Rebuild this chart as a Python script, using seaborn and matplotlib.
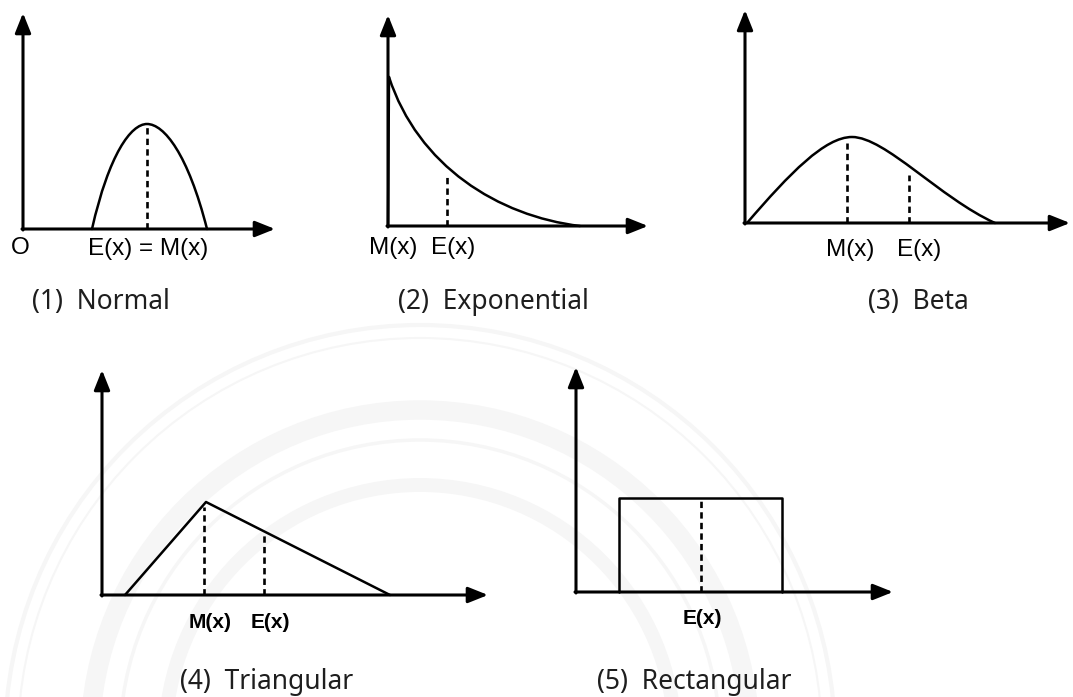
import matplotlib
matplotlib.use("Agg")
import matplotlib.pyplot as plt
from matplotlib.path import Path
from matplotlib.patches import PathPatch, Circle
import seaborn as sns
import pandas as pd

sns.set_theme(style="white")
plt.rcParams["font.family"] = ["Liberation Sans", "DejaVu Sans"]

FIG_W, FIG_H = 1073, 697

# ---- shape data (panel units: px right of the y axis, px above the baseline) ----
# smooth curves are given as cubic Bezier control points: start, c1, c2, end, c1, c2, end ...
normal_ctrl_x = [69, 86, 108, 124, 141, 165, 184]
normal_ctrl_y = [0, 75, 105, 105, 105, 75, 0]
normal_mean, normal_peak = 124, 105

expo_ctrl_x = [1, 30, 110, 192]
expo_ctrl_y = [149, 60, 10, 0]
expo_mean, expo_mean_h = 59, 50

beta_ctrl_x = [2, 45, 80, 107, 140, 195, 250]
beta_ctrl_y = [0, 50, 86, 86, 86, 25, 0]
beta_mode, beta_mode_h = 102, 80
beta_mean, beta_mean_h = 164, 48

tri_x = [23, 104, 288]
tri_y = [0, 93, 0]
tri_mode, tri_mode_h = 102, 88
tri_mean, tri_mean_h = 162, 62

rect_x = [43, 43, 206, 206]
rect_y = [0, 94, 94, 0]
rect_mean = 125

captions = ["(1)  Normal", "(2)  Exponential", "(3)  Beta",
            "(4)  Triangular", "(5)  Rectangular"]

fig = plt.figure(figsize=(FIG_W / 100, FIG_H / 100), dpi=100)
fig.patch.set_facecolor("white")

# faint seal printed behind the lower row
bg = fig.add_axes([0, 0, 1, 1])
bg.set_xlim(0, FIG_W)
bg.set_ylim(FIG_H, 0)
bg.axis("off")
for r, lw in [(415, 3), (402, 1.5), (330, 14), (300, 2.5), (255, 10)]:
    bg.add_patch(Circle((420, 740), r, fill=False, color="#f6f6f6", lw=lw, zorder=0))


def panel(ox, oy, x_tip, y_tip):
    """Axes whose data units are pixels, origin at the corner of the drawn axes."""
    xmin, xmax = -40, x_tip + 15
    ymin, ymax = -110, y_tip + 5
    rect = [(ox + xmin) / FIG_W, (FIG_H - (oy - ymin)) / FIG_H,
            (xmax - xmin) / FIG_W, (ymax - ymin) / FIG_H]
    ax = fig.add_axes(rect)
    ax.set_xlim(xmin, xmax)
    ax.set_ylim(ymin, ymax)
    ax.set_facecolor("none")
    ax.axis("off")
    arrow = dict(arrowstyle="-|>,head_length=0.75,head_width=0.3", lw=2.2,
                 color="black", shrinkA=0, shrinkB=0, mutation_scale=16)
    ax.annotate("", xy=(x_tip, 0), xytext=(-1, 0), arrowprops=arrow)
    ax.annotate("", xy=(0, y_tip), xytext=(0, -1), arrowprops=arrow)
    return ax


def polyline(ax, xs, ys):
    df = pd.DataFrame({"x": xs, "y": ys})
    sns.lineplot(data=df, x="x", y="y", ax=ax, color="black", lw=1.8,
                 sort=False, estimator=None)


def bezier(ax, xs, ys):
    verts = list(zip(xs, ys))
    codes = [Path.MOVETO] + [Path.CURVE4] * (len(verts) - 1)
    ax.add_patch(PathPatch(Path(verts, codes), fill=False, edgecolor="black",
                           lw=1.8, capstyle="round"))


def dashed(ax, x, h):
    ax.plot([x, x], [0, h], color="black", lw=1.9, ls=(0, (2.4, 1.6)))


def caption(ax, x, y, s):
    ax.text(x, y, s, ha="left", va="center", fontsize=19,
            family=["Noto Sans", "DejaVu Sans"], fontweight="light", color="#1e1e1e")


label_kw = dict(ha="center", va="center", fontsize=17.5, color="black")
label_kw_b = dict(ha="center", va="center", fontsize=15, color="black", fontweight="bold")

# (1) Normal
ax = panel(23, 229, 252, 216)
bezier(ax, normal_ctrl_x, normal_ctrl_y)
dashed(ax, normal_mean, normal_peak)
ax.text(-3, -19, "O", **label_kw)
ax.text(125, -20, "E(x) = M(x)", **label_kw)
caption(ax, 9, -73, captions[0])

# (2) Exponential
ax = panel(388, 226, 260, 211)
bezier(ax, expo_ctrl_x, expo_ctrl_y)
ax.plot([0, expo_ctrl_x[0]], [0, expo_ctrl_y[0]], color="black", lw=1.8)
dashed(ax, expo_mean, expo_mean_h)
ax.text(5, -22, "M(x)", **label_kw)
ax.text(65, -22, "E(x)", **label_kw)
caption(ax, 10, -76, captions[1])

# (3) Beta
ax = panel(745, 223, 325, 213)
bezier(ax, beta_ctrl_x, beta_ctrl_y)
dashed(ax, beta_mode, beta_mode_h)
dashed(ax, beta_mean, beta_mean_h)
ax.text(105, -27, "M(x)", **label_kw)
ax.text(174, -27, "E(x)", **label_kw)
caption(ax, 123, -79, captions[2])

# (4) Triangular
ax = panel(102, 595, 386, 225)
polyline(ax, tri_x, tri_y)
dashed(ax, tri_mode, tri_mode_h)
dashed(ax, tri_mean, tri_mean_h)
ax.text(108, -27, "M(x)", **label_kw_b)
ax.text(168, -27, "E(x)", **label_kw_b)
caption(ax, 78, -87, captions[3])

# (5) Rectangular
ax = panel(576, 592, 317, 225)
polyline(ax, rect_x, rect_y)
dashed(ax, rect_mean, max(rect_y))
ax.text(126, -26, "E(x)", **label_kw_b)
caption(ax, 21, -90, captions[4])

fig.savefig("out.png", dpi=100, facecolor="white")
